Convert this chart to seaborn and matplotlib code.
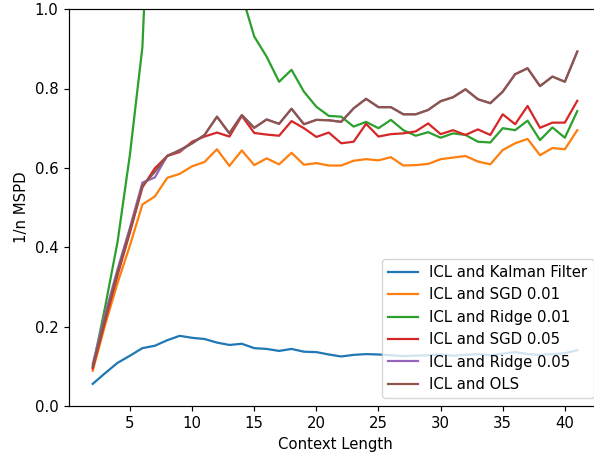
import matplotlib
matplotlib.use("Agg")
import matplotlib.pyplot as plt
import seaborn as sns
import pandas as pd

context = list(range(2, 42))

kalman = [0.056, 0.083, 0.109, 0.127, 0.146, 0.152, 0.166, 0.177, 0.172, 0.169,
          0.160, 0.154, 0.157, 0.146, 0.144, 0.139, 0.144, 0.137, 0.136, 0.130,
          0.125, 0.129, 0.131, 0.130, 0.128, 0.126, 0.127, 0.128, 0.130, 0.127,
          0.129, 0.131, 0.128, 0.132, 0.136, 0.131, 0.129, 0.131, 0.133, 0.141]

sgd_001 = [0.089, 0.205, 0.310, 0.405, 0.508, 0.528, 0.575, 0.585, 0.604, 0.615,
           0.647, 0.605, 0.644, 0.607, 0.624, 0.609, 0.638, 0.608, 0.612, 0.606,
           0.606, 0.618, 0.622, 0.619, 0.627, 0.606, 0.607, 0.610, 0.622, 0.626,
           0.630, 0.616, 0.609, 0.645, 0.662, 0.673, 0.632, 0.650, 0.647, 0.695]

ridge_001 = [0.097, 0.250, 0.414, 0.635, 0.905, 1.640, 2.200, 2.600, 2.500, 2.000,
             1.600, 1.300, 1.036, 0.931, 0.880, 0.817, 0.847, 0.792, 0.754, 0.731,
             0.729, 0.704, 0.716, 0.700, 0.721, 0.695, 0.681, 0.690, 0.676, 0.687,
             0.683, 0.666, 0.664, 0.700, 0.695, 0.719, 0.670, 0.702, 0.676, 0.743]

sgd_005 = [0.095, 0.215, 0.330, 0.438, 0.551, 0.599, 0.630, 0.640, 0.666, 0.679,
           0.689, 0.679, 0.731, 0.688, 0.684, 0.681, 0.718, 0.700, 0.678, 0.689,
           0.662, 0.666, 0.711, 0.679, 0.685, 0.687, 0.692, 0.712, 0.685, 0.695,
           0.683, 0.697, 0.683, 0.735, 0.710, 0.756, 0.701, 0.714, 0.714, 0.769]

ridge_005 = [0.106, 0.232, 0.345, 0.450, 0.563, 0.576, 0.631, 0.643, 0.662, 0.683,
             0.729, 0.687, 0.733, 0.701, 0.722, 0.711, 0.749, 0.710, 0.721, 0.720,
             0.716, 0.750, 0.774, 0.753, 0.753, 0.735, 0.735, 0.746, 0.768, 0.778,
             0.798, 0.773, 0.763, 0.792, 0.836, 0.851, 0.806, 0.830, 0.817, 0.893]

ols = [0.100, 0.222, 0.337, 0.444, 0.555, 0.590, 0.630, 0.645, 0.662, 0.683,
       0.729, 0.687, 0.733, 0.701, 0.722, 0.711, 0.749, 0.710, 0.721, 0.720,
       0.716, 0.750, 0.774, 0.753, 0.753, 0.735, 0.735, 0.746, 0.768, 0.778,
       0.798, 0.773, 0.763, 0.792, 0.836, 0.851, 0.806, 0.830, 0.817, 0.893]

series_names = ["ICL and Kalman Filter", "ICL and SGD 0.01", "ICL and Ridge 0.01",
                "ICL and SGD 0.05", "ICL and Ridge 0.05", "ICL and OLS"]
series_values = [kalman, sgd_001, ridge_001, sgd_005, ridge_005, ols]
colors = ["#1f77b4", "#ff7f0e", "#2ca02c", "#d62728", "#9467bd", "#8c564b"]

x_ticks = [5, 10, 15, 20, 25, 30, 35, 40]
y_ticks = [0.0, 0.2, 0.4, 0.6, 0.8, 1.0]

scale = 1.07
plt.rcParams.update({
    "font.size": 10 * scale,
    "axes.linewidth": 0.8 * scale,
    "xtick.major.size": 3.5 * scale,
    "ytick.major.size": 3.5 * scale,
    "xtick.major.width": 0.8 * scale,
    "ytick.major.width": 0.8 * scale,
})

rows = []
for name, vals in zip(series_names, series_values):
    for c, v in zip(context, vals):
        rows.append({"Context Length": c, "value": v, "series": name})
df = pd.DataFrame(rows)

fig = plt.figure(figsize=(5.94, 4.55), dpi=100)
ax = fig.add_axes([68.5 / 594, 48.9 / 455, 533 / 594, 397 / 455])

for name, col in zip(series_names, colors):
    sub = df[df["series"] == name]
    sns.lineplot(data=sub, x="Context Length", y="value", color=col,
                 label=name, linewidth=1.5 * scale, ax=ax)

ax.set_xlim(0.05, 42.95)
ax.set_ylim(0, 1.0)
ax.set_xticks(x_ticks)
ax.set_yticks(y_ticks)
ax.set_xlabel("Context Length")
ax.set_ylabel("1/n MSPD")
ax.spines["right"].set_visible(False)

ax.legend(loc="lower right", bbox_to_anchor=(593.5 / 594, (455 - 398) / 455),
          bbox_transform=fig.transFigure, borderaxespad=0, fontsize=10 * scale)

fig.savefig("out.png", dpi=100)
